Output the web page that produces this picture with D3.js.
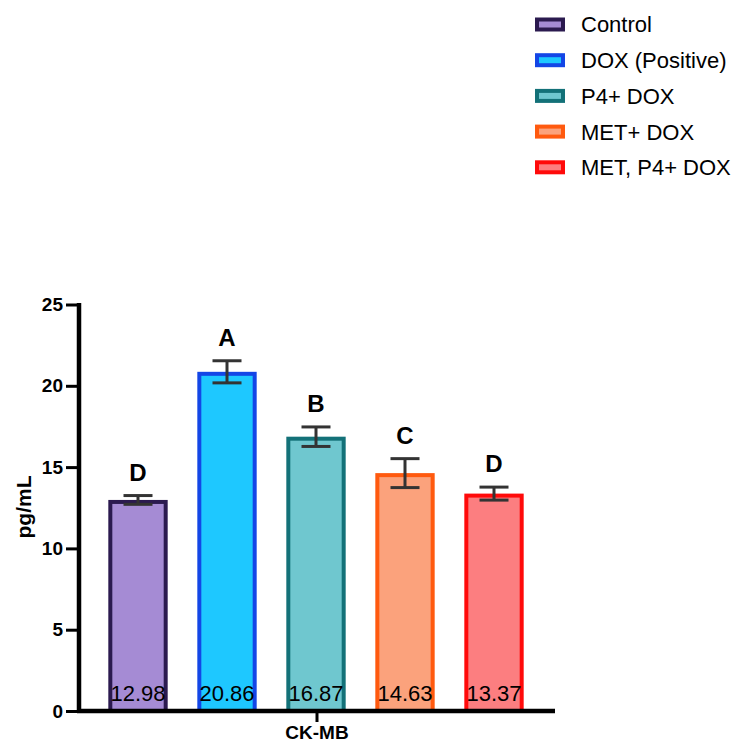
<!DOCTYPE html>
<html>
<head>
<meta charset="utf-8">
<script src="https://cdn.jsdelivr.net/npm/d3@7"></script>
<style>
  body { margin: 0; background: #fff; }
  svg { display: block; font-family: "Liberation Sans", Arial, sans-serif; }
</style>
</head>
<body>
<svg id="chart" width="739" height="746"></svg>
<script>
const groups = ["Control", "DOX (Positive)", "P4+ DOX", "MET+ DOX", "MET, P4+ DOX"];
const means = [12.98, 20.86, 16.87, 14.63, 13.37];
const errors = [0.27, 0.68, 0.6, 0.89, 0.4];
const letters = ["D", "A", "B", "C", "D"];
const fills = ["#A58BD4", "#1EC8FF", "#6FC7CF", "#FBA27C", "#FC7E80"];
const strokes = ["#2B1A4F", "#1346E6", "#137178", "#FF5A0F", "#FF0A0A"];
const yTicks = [0, 5, 10, 15, 20, 25];
const category = ["CK-MB"];
const yLabel = "pg/mL";

const svg = d3.select("#chart");

const y = d3.scaleLinear().domain([0, 25]).range([711, 304.5]);
const x = d3.scaleBand().domain(groups).range([93.5, 538.5]).paddingInner(0.333).paddingOuter(0.1665);
const xCat = d3.scaleBand().domain(category).range([79, 555]);
const sw = 4;

// Bars (border drawn inside the bar)
const g = svg.append("g");
g.selectAll("rect.bar").data(groups).join("rect")
  .attr("class", "bar")
  .attr("x", d => x(d) + sw / 2)
  .attr("width", x.bandwidth() - sw)
  .attr("y", (d, i) => y(means[i]) + sw / 2)
  .attr("height", (d, i) => y(0) - y(means[i]) - sw / 2)
  .attr("fill", (d, i) => fills[i])
  .attr("stroke", (d, i) => strokes[i])
  .attr("stroke-width", sw);

// Error bars
const capHalf = 14.5;
const eb = g.selectAll("g.err").data(groups).join("g").attr("class", "err")
  .attr("stroke", "#333").attr("stroke-width", 3);
eb.append("line")
  .attr("x1", d => x(d) + x.bandwidth() / 2).attr("x2", d => x(d) + x.bandwidth() / 2)
  .attr("y1", (d, i) => y(means[i] + errors[i])).attr("y2", (d, i) => y(means[i] - errors[i]));
eb.append("line")
  .attr("x1", d => x(d) + x.bandwidth() / 2 - capHalf).attr("x2", d => x(d) + x.bandwidth() / 2 + capHalf)
  .attr("y1", (d, i) => y(means[i] + errors[i])).attr("y2", (d, i) => y(means[i] + errors[i]));
eb.append("line")
  .attr("x1", d => x(d) + x.bandwidth() / 2 - capHalf).attr("x2", d => x(d) + x.bandwidth() / 2 + capHalf)
  .attr("y1", (d, i) => y(means[i] - errors[i])).attr("y2", (d, i) => y(means[i] - errors[i]));

// Significance letters
g.selectAll("text.letter").data(groups).join("text")
  .attr("class", "letter")
  .attr("x", d => x(d) + x.bandwidth() / 2)
  .attr("y", (d, i) => y(means[i] + errors[i]) - 15)
  .attr("text-anchor", "middle")
  .attr("font-size", 24).attr("font-weight", "bold")
  .text((d, i) => letters[i]);

// Value labels
g.selectAll("text.val").data(groups).join("text")
  .attr("class", "val")
  .attr("x", d => x(d) + x.bandwidth() / 2)
  .attr("y", y(0) - 10)
  .attr("text-anchor", "middle")
  .attr("font-size", 22)
  .text((d, i) => means[i].toFixed(2));

// Y axis
const yAxis = svg.append("g").attr("transform", "translate(79,0)")
  .call(d3.axisLeft(y).tickValues(yTicks).tickSize(13).tickSizeOuter(0).tickPadding(3));
yAxis.select(".domain").attr("stroke", "#000").attr("stroke-width", 4.5)
  .attr("d", `M0,${y(25) - 1.5}V${y(0) + 2}`);
yAxis.selectAll(".tick line").attr("stroke", "#000").attr("stroke-width", 3);
yAxis.selectAll(".tick text").attr("font-size", 19).attr("font-weight", "bold")
  .attr("font-family", "Liberation Sans, Arial, sans-serif").attr("fill", "#000");

// X axis
const xAxis = svg.append("g").attr("transform", `translate(0,${y(0)})`)
  .call(d3.axisBottom(xCat).tickSize(11).tickSizeOuter(0).tickPadding(4));
xAxis.select(".domain").attr("stroke", "#000").attr("stroke-width", 4.5)
  .attr("d", `M77,0H555`);
xAxis.selectAll(".tick line").attr("stroke", "#000").attr("stroke-width", 3);
xAxis.selectAll(".tick text").attr("font-size", 19).attr("font-weight", "bold")
  .attr("font-family", "Liberation Sans, Arial, sans-serif").attr("fill", "#000");

// Y label
svg.append("text")
  .attr("transform", `translate(31,507) rotate(-90)`)
  .attr("text-anchor", "middle")
  .attr("font-size", 21).attr("font-weight", "bold")
  .text(yLabel);

// Legend
const leg = svg.append("g").selectAll("g").data(groups).join("g")
  .attr("transform", (d, i) => `translate(537,${24.5 + i * 35.7})`);
leg.append("rect")
  .attr("x", 0).attr("y", -5).attr("width", 26).attr("height", 10)
  .attr("fill", (d, i) => fills[i]).attr("stroke", (d, i) => strokes[i]).attr("stroke-width", 4);
leg.append("text")
  .attr("x", 44).attr("y", 0).attr("dy", "0.36em")
  .attr("font-size", 22)
  .text(d => d);
</script>
</body>
</html>
